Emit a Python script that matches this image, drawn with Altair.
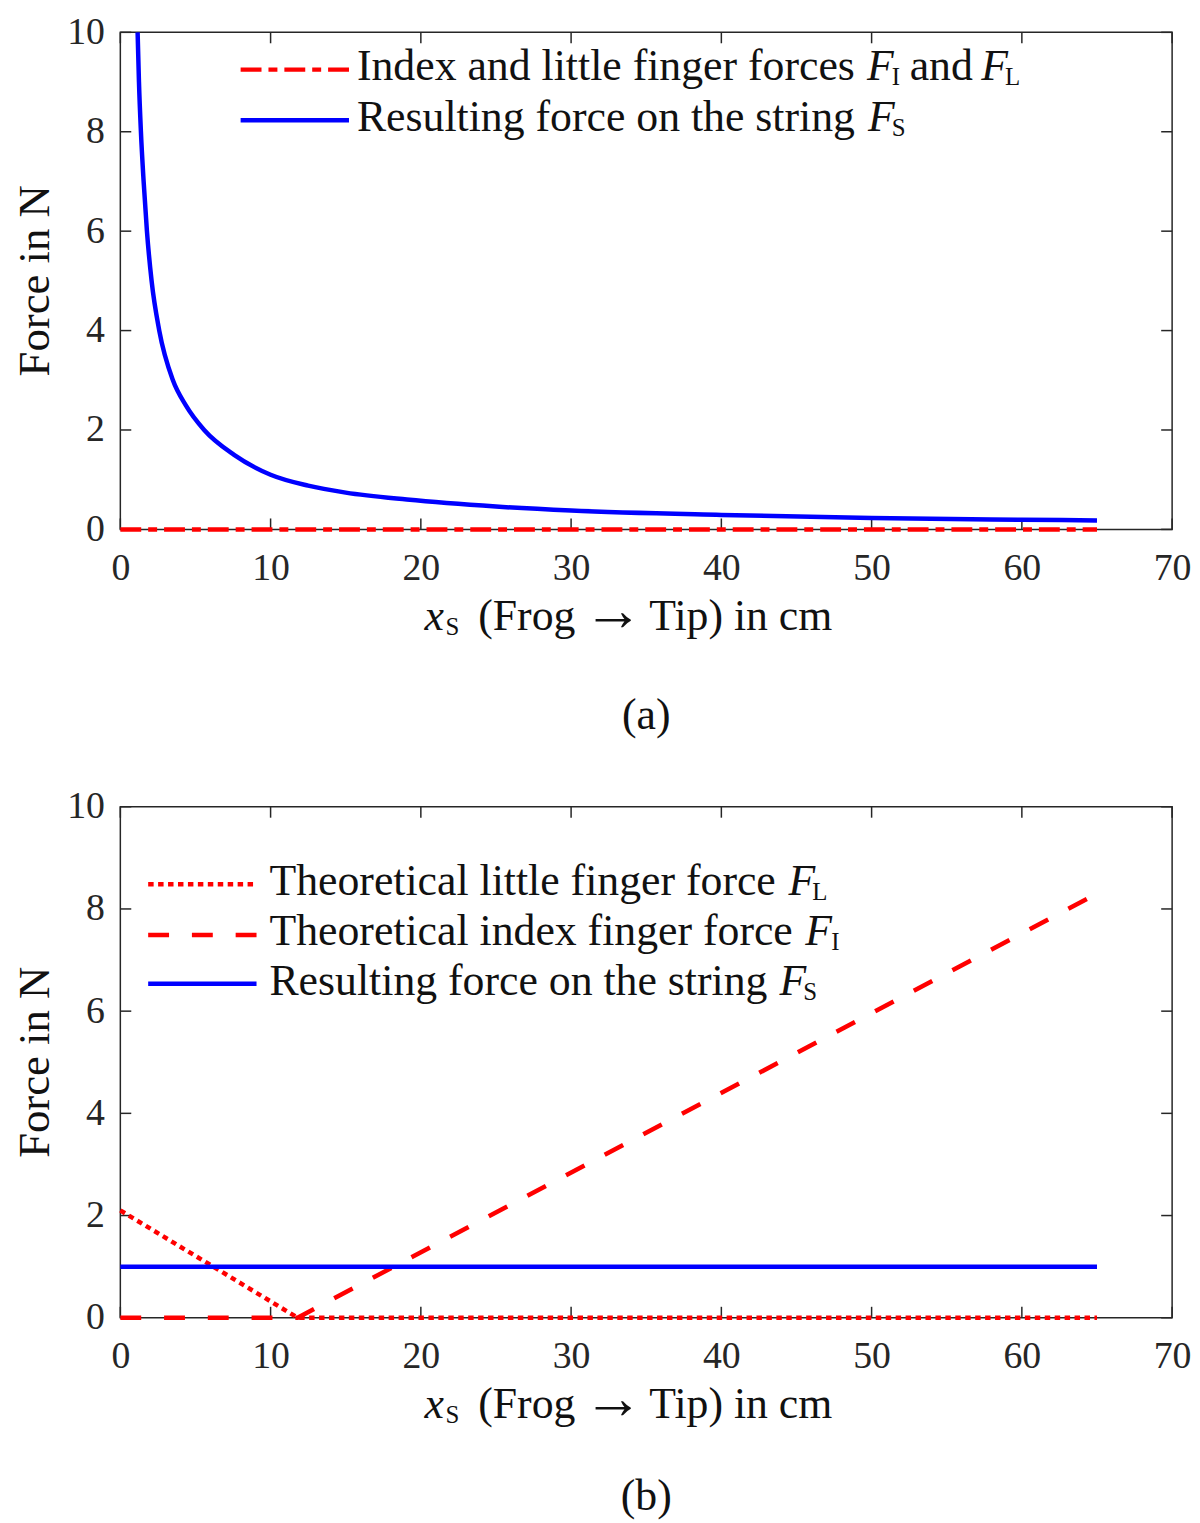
import altair as alt
import pandas as pd

# ---------------- data ----------------
# Panel (a): resulting string force F_S vs bow position x_S
a_string_x = [1.15, 1.24, 1.37, 1.55, 1.77, 2.08, 2.59, 3.5, 4.35, 5.58, 7.57,
              10, 12.5, 15, 19.07, 25, 30, 40, 50, 60, 65]
a_string_y = [10.0, 9.0, 8.0, 7.0, 6.0, 5.0, 4.0, 3.0, 2.5, 2.0, 1.5,
              1.1, 0.88, 0.74, 0.6, 0.46, 0.38, 0.29, 0.23, 0.195, 0.18]
# Panel (a): index and little finger forces (both zero)
a_finger_x = [0, 65]
a_finger_y = [0, 0]

# Panel (b)
b_little_x = [0, 11.8, 65]
b_little_y = [2.1, 0, 0]
b_index_x = [0, 11.8, 65]
b_index_y = [0, 0, 8.3]
b_string_x = [0, 65]
b_string_y = [1, 1]

x_ticks = [0, 10, 20, 30, 40, 50, 60, 70]
y_ticks = [0, 2, 4, 6, 8, 10]

# ---------------- style ----------------
W = 1058
HA, HB = 500, 514
FONT = "Liberation Serif"
INK = "#262626"
TXT = "#111111"
RED = "#ff0000"
BLUE = "#0000ff"
LW = 4.5
TS = 44      # text size
SUB = 25     # subscript size
TICK = 11

xs = alt.Scale(domain=[0, 70], nice=False, zero=False)
ys = alt.Scale(domain=[0, 10], nice=False, zero=False)
x_axis = alt.Axis(values=x_ticks, title=None, ticks=False, domain=False, grid=False,
                  labelFont=FONT, labelFontSize=38, labelColor=INK, labelPadding=20,
                  labelFlush=False, labelBaseline="top", labelOverlap=False)
y_axis = alt.Axis(values=y_ticks, title=None, ticks=False, domain=False, grid=False,
                  labelFont=FONT, labelFontSize=38, labelColor=INK, labelPadding=16,
                  labelFlush=False, labelOverlap=False)

one = pd.DataFrame({"d": [0]})


def series(xv, yv, color, dash=None, interp="linear"):
    df = pd.DataFrame({"x": xv, "y": yv})
    kw = dict(color=color, strokeWidth=LW, interpolate=interp, clip=False)
    if dash:
        kw["strokeDash"] = dash
    return alt.Chart(df).mark_line(**kw).encode(
        x=alt.X("x:Q", scale=xs, axis=x_axis),
        y=alt.Y("y:Q", scale=ys, axis=y_axis),
    )


def tick_layers(H):
    xt = pd.DataFrame({"t": x_ticks})
    yt = pd.DataFrame({"t": y_ticks})
    X = alt.X("t:Q", scale=xs, axis=x_axis)
    Y = alt.Y("t:Q", scale=ys, axis=y_axis)
    return [
        alt.Chart(xt).mark_rule(color=INK, strokeWidth=1.5).encode(
            x=X, y=alt.value(H), y2=alt.value(H - TICK)),
        alt.Chart(xt).mark_rule(color=INK, strokeWidth=1.5).encode(
            x=X, y=alt.value(0), y2=alt.value(TICK)),
        alt.Chart(yt).mark_rule(color=INK, strokeWidth=1.5).encode(
            y=Y, x=alt.value(0), x2=alt.value(TICK)),
        alt.Chart(yt).mark_rule(color=INK, strokeWidth=1.5).encode(
            y=Y, x=alt.value(W), x2=alt.value(W - TICK)),
    ]


def txt(s, x, y, size=TS, italic=False, align="left", angle=0, color=TXT, font=FONT):
    kw = dict(text=s, font=font, fontSize=size, align=align, baseline="alphabetic",
              color=color, fontStyle="italic" if italic else "normal")
    if angle:
        kw["angle"] = angle
    return alt.Chart(one).mark_text(**kw).encode(x=alt.value(x), y=alt.value(y))


def key(x1, x2, y, color, dash=None):
    kw = dict(color=color, strokeWidth=LW)
    if dash:
        kw["strokeDash"] = dash
    return alt.Chart(one).mark_rule(**kw).encode(
        x=alt.value(x1), x2=alt.value(x2), y=alt.value(y))


def frame_text(H, label, label_y):
    return [
        txt("Force in N", -72, H / 2, size=45, align="center", angle=270),
        txt("x", 306, H + 101, italic=True),
        txt("S", 327, H + 106, size=SUB),
        txt("(Frog", 360, H + 101),
        txt("\u2192", 466, H + 101, size=60),
        txt("Tip) in cm", 532, H + 101),
        txt(label, W / 2, H + label_y, align="center"),
    ]


DASHDOT = [21, 7, 9, 7]
DASHED = [21, 23]
DOTTED = [5.5, 4.5]

# ---------------- panel (a) ----------------
layers_a = tick_layers(HA) + [
    series(a_finger_x, a_finger_y, RED, DASHDOT),
    series(a_string_x, a_string_y, BLUE, interp="monotone"),
    key(121, 230, 37.5, RED, DASHDOT),
    key(121, 230, 88.5, BLUE),
    txt("Index and little finger forces", 238, 48),
    txt("F", 751, 48, italic=True),
    txt("I", 776, 53, size=SUB),
    txt("and", 794, 48),
    txt("F", 866, 48, italic=True),
    txt("L", 890, 53, size=SUB),
    txt("Resulting force on the string", 238, 99),
    txt("F", 752, 99, italic=True),
    txt("S", 776, 104, size=SUB),
] + frame_text(HA, "(a)", 201)
panel_a = alt.layer(*layers_a).properties(
    width=W, height=HA, view=alt.ViewBackground(stroke=INK, strokeWidth=1.5))

# ---------------- panel (b) ----------------
layers_b = tick_layers(HB) + [
    series(b_index_x, b_index_y, RED, DASHED),
    series(b_little_x, b_little_y, RED, DOTTED),
    series(b_string_x, b_string_y, BLUE),
    key(28, 137, 78, RED, DOTTED),
    key(28, 137, 129, RED, DASHED),
    key(28, 137, 178, BLUE),
    txt("Theoretical little finger force", 150, 89),
    txt("F", 672, 89, italic=True),
    txt("L", 696, 94, size=SUB),
    txt("Theoretical index finger force", 150, 139),
    txt("F", 689, 139, italic=True),
    txt("I", 715, 144, size=SUB),
    txt("Resulting force on the string", 150, 189),
    txt("F", 663, 189, italic=True),
    txt("S", 687, 194, size=SUB),
] + frame_text(HB, "(b)", 193)
panel_b = alt.layer(*layers_b).properties(
    width=W, height=HB, view=alt.ViewBackground(stroke=INK, strokeWidth=1.5))

chart = (
    alt.vconcat(panel_a, panel_b, spacing=48)
    .properties(padding={"left": 4, "top": 0, "right": 0, "bottom": 0},
                background="white")
    .configure_view(stroke=INK, strokeWidth=1.5)
    .configure_axis(labelFont=FONT, labelColor=INK)
)

chart.save("out.html", embed_options={"renderer": "svg", "actions": False})
